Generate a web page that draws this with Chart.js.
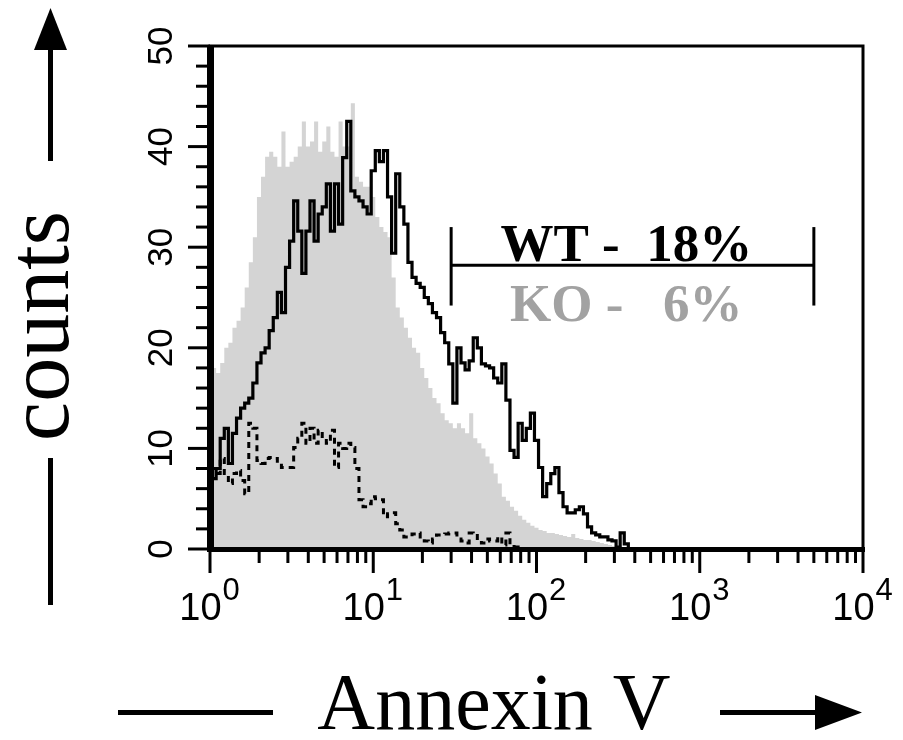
<!DOCTYPE html>
<html><head><meta charset="utf-8">
<script src="https://cdn.jsdelivr.net/npm/chart.js@4.4.0/dist/chart.umd.min.js"></script>
<style>html,body{margin:0;padding:0;background:#fff}#wrap{width:903px;height:740px}</style>
</head><body><div id="wrap"><canvas id="c" width="903" height="740"></canvas></div>
<script>
// histogram channels: 40 bins per decade starting at 10^0
const binsPerDecade = 40;
// KO (grey filled histogram)
const koCounts = [
 18,18,17.5,18.5,20,20.5,22,22.7,24,26,
 28.5,31,35,37,39,39.5,39,38,41.5,38,
 38.5,39,40,42.5,40,40.5,42.5,39.5,40.5,42,
 39.5,39,42.5,40,40,44.3,37,36.5,36,36,
 35,33,32,31.5,31,27,24,23,22,21,
 20,19.5,18,17,16,15,14.5,13.5,12.8,12.5,
 12,12.5,12,11.5,13.5,11,10.5,10,9.2,8.5,
 7.5,6.5,5.2,4.8,4.2,3.8,3.3,2.9,2.6,2.3,
 2.1,1.9,1.8,1.6,1.6,1.5,1.4,1.3,1.2,1.5,
 1.1,1.0,0.9,0.9,0.8,0.7,0.6,0.5,0.4,0.3,
 0.2,0.1,0.1,0,0];
// WT (black solid line)
const wtCounts = [
 9,7,8,11,12,8.5,11.5,13,14,14.5,
 15,16.5,18.5,19.5,20,21.7,23,25.5,23.5,28,
 30.6,34.6,31.6,27.4,31.6,34.6,30.6,33.3,34,36.3,
 31.6,36.3,32.3,38.9,42.5,35.6,35,34.6,34,33.3,
 37.6,39.6,38.5,39.6,35,29.4,37.3,34,32.3,28.5,
 27,26.4,26,25,24.4,23.5,23,21.5,20.5,18.4,
 14.5,20,18.5,17.8,18.7,21,20,18.4,18.2,18,
 17,16.5,18.4,14.8,9.8,9.1,12.5,10.8,12,13.5,
 10.8,8.1,5.2,6.5,7.5,8.1,5.6,4.2,3.6,3.6,
 3.9,4.2,3.5,2.2,1.6,1.4,1.2,1.2,0.9,0.8,
 0.2,1.6,0.5,0,0];
// control (black dashed line)
const ctrlCounts = [
 9,8,7.5,9,7.5,6.5,7.5,7.8,6.8,5.5,
 12.5,12,8.8,8.5,9,9.1,9,8.5,8.1,8.1,
 8.1,10.1,11,12.5,10.5,12,10.5,11.8,11,10.5,
 11.8,8.1,10.5,10,10.5,10.1,8,4.9,4.2,4.5,
 5.2,5,4.9,3.2,3.5,3.6,2.5,1.9,1.2,1.2,
 1.5,1.6,1.2,0.8,0.6,1,1.4,1.4,1.5,1.6,
 1.6,1,0.8,0.6,1.6,1.5,0.8,0.6,1.0,0.8,
 0.8,1.2,0.4,1.6,0.4,0.2,0];
const yTickLabels = ['0','10','20','30','40','50'];
const yMinorStep = 2;
const xTickBases = ['10','10','10','10','10'];
const xTickExponents = ['0','1','2','3','4'];
// gate marker (Annexin V positive)
const gateRange = [30, 5000];
const gateLevel = 28.2;
const gateEnds = [24.2, 32];
const gateLabels = ['WT -  18%', 'KO -   6%'];
const gateLabelLevels = [28.6, 22.7];
const gateLabelCenter = 355;

const chan = i => Math.pow(10, i / binsPerDecade);
const toPts = arr => arr.map((v, i) => ({x: chan(i), y: v}));

const deco = {
  id: 'deco',
  afterDatasetsDraw(chart) {
    const {ctx, chartArea: a, scales: {x, y}} = chart;
    ctx.save();
    ctx.fillStyle = '#000'; ctx.strokeStyle = '#000';
    // frame
    ctx.lineWidth = 3;
    ctx.strokeRect(a.left, a.top, a.right - a.left, a.bottom - a.top);
    ctx.fillRect(a.left - 3, a.top - 1, 7, a.bottom - a.top + 4);
    ctx.fillRect(a.left - 3, a.bottom - 2, a.right - a.left + 5, 5);
    // y ticks
    ctx.lineWidth = 3;
    const yMax = (yTickLabels.length - 1) * 10;
    for (let v = 0; v <= yMax; v += yMinorStep) {
      const py = y.getPixelForValue(v);
      const major = v % 10 === 0;
      ctx.beginPath(); ctx.moveTo(a.left - (major ? 22 : 14), py); ctx.lineTo(a.left, py); ctx.stroke();
    }
    ctx.font = '35px "Liberation Sans", Arial, sans-serif';
    ctx.textAlign = 'center'; ctx.textBaseline = 'alphabetic';
    yTickLabels.forEach((t, k) => {
      const py = y.getPixelForValue(k * 10);
      ctx.save(); ctx.translate(172, py); ctx.rotate(-Math.PI / 2); ctx.fillText(t, 0, 0); ctx.restore();
    });
    // x ticks
    ctx.lineWidth = 3;
    for (let d = 0; d < xTickExponents.length; d++) {
      const base = Math.pow(10, d);
      const px = x.getPixelForValue(base);
      ctx.beginPath(); ctx.moveTo(px, a.bottom); ctx.lineTo(px, a.bottom + 24); ctx.stroke();
      if (d < xTickExponents.length - 1) {
        for (let m = 2; m <= 9; m++) {
          const qx = x.getPixelForValue(m * base);
          ctx.beginPath(); ctx.moveTo(qx, a.bottom); ctx.lineTo(qx, a.bottom + 14); ctx.stroke();
        }
      }
    }
    ctx.textBaseline = 'alphabetic'; ctx.textAlign = 'left';
    const baseFont = '38px "Liberation Sans", Arial, sans-serif';
    const supFont = '31px "Liberation Sans", Arial, sans-serif';
    xTickExponents.forEach((e, k) => {
      const px = x.getPixelForValue(Math.pow(10, k));
      ctx.font = baseFont;
      const w1 = ctx.measureText(xTickBases[k]).width;
      ctx.font = supFont;
      const w2 = ctx.measureText(e).width;
      const x0 = px - (w1 + w2) / 2 - 1;
      ctx.font = baseFont;
      ctx.fillText(xTickBases[k], x0, 620);
      ctx.font = supFont;
      ctx.fillText(e, x0 + w1 + 1, 600);
    });
    // gate labels
    ctx.textAlign = 'center'; ctx.textBaseline = 'alphabetic';
    ctx.font = 'bold 53px "Liberation Serif", "Times New Roman", serif';
    const cx = x.getPixelForValue(gateLabelCenter);
    ctx.fillStyle = '#000';
    ctx.fillText(gateLabels[0], cx, y.getPixelForValue(gateLabelLevels[0]));
    ctx.fillStyle = '#a2a2a2';
    ctx.fillText(gateLabels[1], cx, y.getPixelForValue(gateLabelLevels[1]));
    // axis titles
    ctx.fillStyle = '#000';
    ctx.font = '88px "Liberation Serif", "Times New Roman", serif';
    ctx.save(); ctx.translate(68, 326); ctx.rotate(-Math.PI / 2);
    ctx.textAlign = 'center'; ctx.fillText('counts', 0, 0); ctx.restore();
    ctx.font = '80px "Liberation Serif", "Times New Roman", serif';
    ctx.textAlign = 'center';
    ctx.fillText('Annexin V', 494, 729);
    // arrows
    ctx.fillRect(48, 48, 5, 113);
    ctx.beginPath(); ctx.moveTo(50.5, 8); ctx.lineTo(34, 50); ctx.lineTo(67, 50); ctx.closePath(); ctx.fill();
    ctx.fillRect(48, 458, 5, 147);
    ctx.fillRect(118, 710, 155, 5);
    ctx.fillRect(720, 710, 98, 5);
    ctx.beginPath(); ctx.moveTo(862, 712.5); ctx.lineTo(815, 695); ctx.lineTo(815, 730); ctx.closePath(); ctx.fill();
    ctx.restore();
  }
};

new Chart(document.getElementById('c'), {
  type: 'line',
  data: {
    datasets: [
      {label: 'gate', data: [{x: gateRange[0], y: gateLevel}, {x: gateRange[1], y: gateLevel}],
       borderColor: '#000', borderWidth: 3, pointRadius: 0, fill: false, order: 0},
      {label: 'gateL', data: [{x: gateRange[0], y: gateEnds[0]}, {x: gateRange[0], y: gateEnds[1]}],
       borderColor: '#000', borderWidth: 3, pointRadius: 0, fill: false, order: 0},
      {label: 'gateR', data: [{x: gateRange[1], y: gateEnds[0]}, {x: gateRange[1], y: gateEnds[1]}],
       borderColor: '#000', borderWidth: 3, pointRadius: 0, fill: false, order: 0},
      {label: 'WT', data: toPts(wtCounts), borderColor: '#000', borderWidth: 3.2, pointRadius: 0,
       stepped: 'middle', fill: false, order: 1},
      {label: 'control', data: toPts(ctrlCounts), borderColor: '#000', borderWidth: 3, borderDash: [6, 5],
       pointRadius: 0, stepped: 'middle', fill: false, order: 2},
      {label: 'KO', data: toPts(koCounts), borderWidth: 0, borderColor: 'rgba(0,0,0,0)',
       backgroundColor: '#d4d4d4', pointRadius: 0, stepped: 'middle', fill: 'origin', order: 3}
    ]
  },
  options: {
    responsive: false, animation: false, devicePixelRatio: 1,
    layout: {padding: {left: 210, right: 40, top: 46, bottom: 191}},
    plugins: {legend: {display: false}, tooltip: {enabled: false}},
    scales: {
      x: {type: 'logarithmic', min: 1, max: 10000, display: false},
      y: {type: 'linear', min: 0, max: 50, display: false}
    }
  },
  plugins: [deco]
});
</script></body></html>
